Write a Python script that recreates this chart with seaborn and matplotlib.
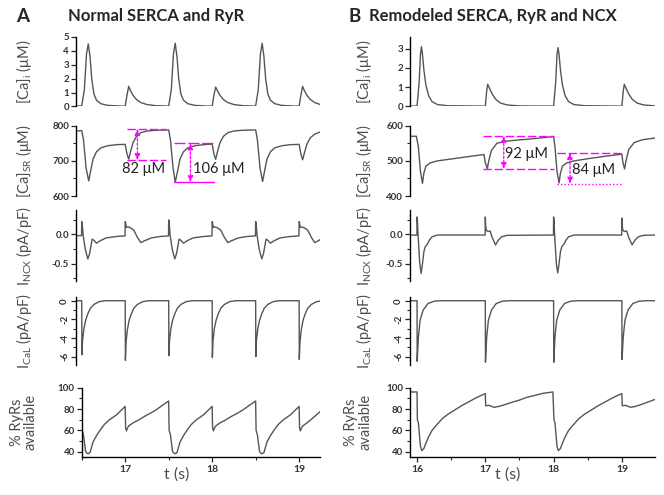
import matplotlib
matplotlib.use("Agg")
import matplotlib.pyplot as plt
import seaborn as sns
from matplotlib.ticker import FixedLocator

sns.set_style("ticks")
plt.rcParams['font.family'] = ['Lato', 'DejaVu Sans']
plt.rcParams['axes.unicode_minus'] = False

# ---------------- data ----------------
# Panel A: Normal SERCA and RyR
a_cai_t = [16.434, 16.50, 16.53, 16.555, 16.575, 16.595, 16.615, 16.64, 16.67, 16.72, 16.80, 16.95,
           17.00, 17.02, 17.04, 17.06, 17.09, 17.13, 17.18, 17.25, 17.35, 17.49,
           17.50, 17.53, 17.555, 17.575, 17.595, 17.615, 17.64, 17.67, 17.72, 17.80, 17.95,
           18.00, 18.02, 18.04, 18.06, 18.09, 18.13, 18.18, 18.25, 18.35, 18.49,
           18.50, 18.53, 18.555, 18.575, 18.595, 18.615, 18.64, 18.67, 18.72, 18.80, 18.95,
           19.00, 19.02, 19.04, 19.06, 19.09, 19.13, 19.18, 19.24]
a_cai = [0.03, 0.05, 1.2, 3.8, 4.5, 3.6, 2.0, 0.9, 0.45, 0.2, 0.08, 0.03,
         0.03, 0.8, 1.45, 1.15, 0.8, 0.5, 0.28, 0.14, 0.06, 0.03,
         0.05, 1.2, 3.8, 4.55, 3.6, 2.0, 0.9, 0.45, 0.2, 0.08, 0.03,
         0.03, 0.8, 1.4, 1.15, 0.8, 0.5, 0.28, 0.14, 0.06, 0.03,
         0.05, 1.2, 3.8, 4.55, 3.6, 2.0, 0.9, 0.45, 0.2, 0.08, 0.03,
         0.03, 0.8, 1.45, 1.15, 0.8, 0.5, 0.28, 0.15]

a_sr_t = [16.434, 16.50, 16.52, 16.55, 16.58, 16.60, 16.63, 16.67, 16.72, 16.80, 16.90, 17.00,
          17.02, 17.04, 17.06, 17.09, 17.13, 17.18, 17.25, 17.35, 17.50,
          17.52, 17.55, 17.575, 17.60, 17.63, 17.67, 17.72, 17.80, 17.90, 18.00,
          18.02, 18.04, 18.06, 18.09, 18.13, 18.18, 18.25, 18.35, 18.50,
          18.52, 18.55, 18.58, 18.60, 18.63, 18.67, 18.72, 18.80, 18.90, 19.00,
          19.02, 19.04, 19.06, 19.09, 19.13, 19.18, 19.24]
a_sr = [785, 786, 760, 680, 643, 668, 705, 726, 737, 743, 746, 747,
        720, 705, 725, 752, 770, 780, 785, 787, 788,
        760, 680, 640, 668, 705, 726, 737, 743, 746, 748,
        720, 704, 725, 752, 770, 780, 785, 787, 788,
        760, 680, 641, 668, 705, 726, 737, 743, 746, 747,
        720, 703, 722, 748, 766, 776, 782]

a_ncx_t = [16.434, 16.498, 16.50, 16.505, 16.515, 16.54, 16.57, 16.59, 16.62, 16.64, 16.67, 16.71, 16.78, 16.90,
           16.998, 17.00, 17.005, 17.012, 17.03, 17.065, 17.10, 17.14, 17.18, 17.22, 17.30, 17.40,
           17.498, 17.50, 17.505, 17.515, 17.54, 17.57, 17.59, 17.62, 17.64, 17.67, 17.71, 17.78, 17.90,
           17.998, 18.00, 18.005, 18.012, 18.03, 18.065, 18.10, 18.14, 18.18, 18.22, 18.30, 18.40,
           18.498, 18.50, 18.505, 18.515, 18.54, 18.57, 18.59, 18.62, 18.64, 18.67, 18.71, 18.78, 18.90,
           18.998, 19.00, 19.005, 19.012, 19.03, 19.065, 19.10, 19.14, 19.18, 19.22, 19.24]
a_ncx = [-0.02, -0.02, 0.22, 0.20, 0.0, -0.25, -0.42, -0.33, -0.08, -0.10, -0.15, -0.11, -0.06, -0.035,
         -0.025, 0.22, 0.20, 0.12, 0.13, 0.11, 0.07, -0.05, -0.14, -0.11, -0.06, -0.035,
         -0.025, 0.25, 0.22, 0.0, -0.25, -0.42, -0.33, -0.08, -0.10, -0.15, -0.11, -0.06, -0.035,
         -0.025, 0.22, 0.20, 0.12, 0.13, 0.11, 0.07, -0.05, -0.14, -0.11, -0.06, -0.035,
         -0.025, 0.22, 0.20, 0.0, -0.25, -0.42, -0.33, -0.08, -0.10, -0.15, -0.11, -0.06, -0.035,
         -0.025, 0.22, 0.20, 0.12, 0.13, 0.11, 0.07, -0.05, -0.14, -0.11, -0.09]

a_cal_t = [16.434, 16.50, 16.502, 16.51, 16.525, 16.545, 16.57, 16.60, 16.64, 16.70, 16.77,
           17.00, 17.002, 17.01, 17.025, 17.045, 17.07, 17.10, 17.14, 17.20, 17.27,
           17.50, 17.502, 17.51, 17.525, 17.545, 17.57, 17.60, 17.64, 17.70, 17.77,
           18.00, 18.002, 18.01, 18.025, 18.045, 18.07, 18.10, 18.14, 18.20, 18.27,
           18.50, 18.502, 18.51, 18.525, 18.545, 18.57, 18.60, 18.64, 18.70, 18.77,
           19.00, 19.002, 19.01, 19.025, 19.045, 19.07, 19.10, 19.14, 19.20, 19.24]
a_cal = [0, 0, -5.8, -4.2, -3.0, -2.1, -1.4, -0.8, -0.4, -0.1, 0,
         0, -6.4, -4.4, -3.1, -2.1, -1.4, -0.8, -0.4, -0.1, 0,
         0, -5.9, -4.2, -3.0, -2.1, -1.4, -0.8, -0.4, -0.1, 0,
         0, -6.1, -4.3, -3.0, -2.1, -1.4, -0.8, -0.4, -0.1, 0,
         0, -6.0, -4.2, -3.0, -2.1, -1.4, -0.8, -0.4, -0.1, 0,
         0, -6.3, -4.4, -3.1, -2.1, -1.4, -0.8, -0.4, -0.1, -0.05]

a_ryr_t = [16.43, 16.49, 16.50, 16.505, 16.52, 16.545, 16.57, 16.595, 16.63, 16.67, 16.71, 16.76, 16.82,
           16.90, 16.95, 17.00,
           17.005, 17.015, 17.025, 17.04, 17.09, 17.15, 17.22, 17.30, 17.36, 17.42, 17.50,
           17.505, 17.52, 17.545, 17.57, 17.595, 17.63, 17.67, 17.71, 17.76, 17.82,
           17.90, 17.95, 18.00,
           18.005, 18.015, 18.025, 18.04, 18.09, 18.15, 18.22, 18.30, 18.36, 18.42, 18.50,
           18.505, 18.52, 18.545, 18.57, 18.595, 18.63, 18.67, 18.71, 18.76, 18.82,
           18.90, 18.95, 19.00,
           19.005, 19.015, 19.025, 19.04, 19.09, 19.15, 19.24]
a_ryr = [86, 88, 88, 60, 56, 40, 38, 39, 49, 55, 60, 65.5, 70,
         74.5, 78.5, 82.5,
         62, 59.5, 62, 64, 67, 69.5, 73, 76.5, 79.5, 83, 87.5,
         60, 56, 40, 38, 39, 49, 55, 60, 65.5, 70,
         74.5, 78.5, 82.5,
         62, 59.5, 62, 64, 67, 69.5, 73, 76.5, 79.5, 83, 87.5,
         60, 56, 40, 38, 39, 49, 55, 60, 65.5, 70,
         74.5, 78.5, 82.5,
         62, 59.5, 62, 64, 67, 71, 77.5]

# Panel B: Remodeled SERCA, RyR and NCX
b_cai_t = [15.897, 16.00, 16.03, 16.05, 16.065, 16.08, 16.10, 16.13, 16.17, 16.22, 16.30, 16.45,
           17.00, 17.02, 17.035, 17.06, 17.10, 17.15, 17.22, 17.32, 17.50,
           18.00, 18.03, 18.05, 18.065, 18.08, 18.10, 18.13, 18.17, 18.22, 18.30, 18.45,
           19.00, 19.02, 19.035, 19.06, 19.10, 19.15, 19.22, 19.32, 19.485]
b_cai = [0.02, 0.03, 1.2, 2.7, 3.1, 2.7, 1.9, 1.1, 0.55, 0.25, 0.1, 0.04,
         0.02, 0.8, 1.15, 0.95, 0.65, 0.38, 0.18, 0.08, 0.03,
         0.02, 1.2, 2.7, 3.05, 2.7, 1.9, 1.1, 0.55, 0.25, 0.1, 0.04,
         0.02, 0.8, 1.15, 0.95, 0.65, 0.38, 0.18, 0.08, 0.03]

b_sr_t = [15.897, 15.99, 16.02, 16.05, 16.08, 16.10, 16.13, 16.19, 16.30, 16.49, 16.75, 16.98,
          17.00, 17.03, 17.05, 17.09, 17.17, 17.30, 17.47, 17.75, 18.00,
          18.02, 18.05, 18.08, 18.10, 18.13, 18.19, 18.30, 18.50, 18.75, 19.00,
          19.015, 19.04, 19.06, 19.10, 19.18, 19.30, 19.485]
b_sr = [570, 570, 540, 470, 436, 465, 485, 494, 500, 505, 512, 518,
        495, 478, 500, 530, 550, 556, 559, 564, 569,
        540, 470, 437, 465, 485, 494, 500, 506, 513, 519,
        495, 477, 500, 532, 552, 560, 565]

b_ncx_t = [15.897, 15.998, 16.00, 16.005, 16.015, 16.04, 16.06, 16.08, 16.10, 16.12, 16.15, 16.18, 16.22, 16.30,
           16.998, 17.00, 17.005, 17.015, 17.04, 17.07, 17.10, 17.15, 17.19, 17.24, 17.32,
           17.998, 18.00, 18.005, 18.015, 18.04, 18.06, 18.08, 18.10, 18.12, 18.15, 18.18, 18.22, 18.30,
           18.998, 19.00, 19.005, 19.015, 19.04, 19.07, 19.10, 19.15, 19.19, 19.24, 19.32, 19.485]
b_ncx = [-0.01, -0.01, 0.30, 0.25, 0.0, -0.50, -0.67, -0.50, -0.30, -0.21, -0.17, -0.10, -0.04, -0.01,
         -0.01, 0.30, 0.15, 0.07, 0.05, 0.06, -0.05, -0.18, -0.10, -0.04, -0.015,
         -0.01, 0.30, 0.25, 0.0, -0.50, -0.66, -0.50, -0.30, -0.21, -0.17, -0.10, -0.04, -0.01,
         -0.01, 0.28, 0.15, 0.07, 0.05, 0.06, -0.05, -0.18, -0.10, -0.04, -0.015, -0.01]

b_cal_t = [15.897, 16.00, 16.002, 16.02, 16.045, 16.09, 16.16, 16.25, 16.35,
           17.00, 17.002, 17.02, 17.045, 17.09, 17.16, 17.25, 17.35,
           18.00, 18.002, 18.02, 18.045, 18.09, 18.16, 18.25, 18.35,
           19.00, 19.002, 19.02, 19.045, 19.09, 19.16, 19.25, 19.35, 19.485]
b_cal = [0, 0, -6.5, -3.9, -2.1, -1.0, -0.3, -0.05, 0,
         0, -6.6, -3.9, -2.1, -1.0, -0.3, -0.05, 0,
         0, -6.6, -3.9, -2.1, -1.0, -0.3, -0.05, 0,
         0, -6.3, -3.9, -2.1, -1.0, -0.3, -0.05, 0, 0]

b_ryr_t = [15.897, 16.00, 16.005, 16.02, 16.05, 16.07, 16.10, 16.13, 16.17, 16.22, 16.30, 16.37, 16.45,
           16.55, 16.65, 16.75, 16.85, 16.93, 17.00,
           17.005, 17.05, 17.13, 17.20, 17.30, 17.40, 17.50, 17.60, 17.74, 17.85, 17.99,
           18.005, 18.02, 18.05, 18.07, 18.10, 18.13, 18.17, 18.22, 18.30, 18.37, 18.45,
           18.55, 18.65, 18.75, 18.85, 18.93, 19.00,
           19.005, 19.05, 19.13, 19.20, 19.30, 19.40, 19.485]
b_ryr = [96, 96, 70, 67, 45, 41, 43, 48, 54, 60, 66, 71, 75,
         79, 83, 86.5, 90, 92.5, 94.5,
         83, 83.5, 81.6, 82.5, 84.4, 86.5, 88.4, 90.8, 93, 94.8, 96,
         70, 67, 45, 41, 43, 48, 54, 60, 66, 71, 75,
         79, 83, 86.5, 90, 92.5, 94.5,
         83, 83.5, 81.6, 82.5, 84.6, 87, 89]

# magenta [Ca]SR difference markers
a_mark_lo = [702, 639]
a_mark_hi = [791, 750]
a_mark_x0 = [17.017, 17.564]
a_mark_x1 = [17.47, 18.02]
a_mark_arrow_t = [17.14, 17.75]
a_mark_text = ['82 μM', '106 μM']
a_mark_text_t = [16.96, 17.78]
a_mark_text_y = [677, 677]

b_mark_lo = [477, 435]
b_mark_hi = [571, 523]
b_mark_x0 = [16.97, 18.05]
b_mark_x1 = [18.01, 19.01]
b_mark_arrow_t = [17.27, 18.24]
b_mark_text = ['92 μM', '84 μM']
b_mark_text_t = [17.29, 18.27]
b_mark_text_y = [519, 473]

# ---------------- layout ----------------
W, H = 664, 495
fig = plt.figure(figsize=(W / 100, H / 100), dpi=100)


def place(l, t, r, b):
    return [l / W, 1 - b / H, (r - l) / W, (b - t) / H]


rows = [(37, 106.5), (125.7, 196), (210, 281), (297, 365), (387.7, 457)]
trace_col = '#555555'
tick_col = '#333333'
lab_col = '#4d4d4d'
mag = '#ff00ff'

col_a = [a_cai, a_sr, a_ncx, a_cal, a_ryr]
col_a_t = [a_cai_t, a_sr_t, a_ncx_t, a_cal_t, a_ryr_t]
col_b = [b_cai, b_sr, b_ncx, b_cal, b_ryr]
col_b_t = [b_cai_t, b_sr_t, b_ncx_t, b_cal_t, b_ryr_t]

ylabels = ['[Ca]$_\\mathregular{i}$ (μM)', '[Ca]$_\\mathregular{SR}$ (μM)',
           'I$_\\mathregular{NCX}$ (pA/pF)', 'I$_\\mathregular{CaL}$ (pA/pF)', '% RyRs\navailable']
ylims_a = [(0, 5), (600, 800), (-0.8, 0.42), (-6.9, 0.4), (35, 100)]
ylims_b = [(0, 3.6), (400, 600), (-0.8, 0.42), (-6.9, 0.4), (35, 100)]
major_a = [[0, 1, 2, 3, 4, 5], [600, 700, 800], [-0.5, 0.0], [-6, -4, -2, 0], [40, 60, 80, 100]]
major_b = [[0, 1, 2, 3], [400, 500, 600], [-0.5, 0.0], [-6, -4, -2, 0], [40, 60, 80, 100]]
minor_a = [[], [650, 750], [-0.75, -0.25, 0.25], [-5, -3, -1], [50, 70, 90]]
minor_b = [[], [450, 550], [-0.75, -0.25, 0.25], [-5, -3, -1], [50, 70, 90]]
fmt = ['{:g}', '{:g}', '{:.1f}', '{:g}', '{:g}']

axes = []
for side in range(2):
    for i in range(5):
        top, bot = rows[i]
        if side == 0:
            left = 81.7 if i == 4 else 76
            ax = fig.add_axes(place(left, top, 320, bot))
            xl = (16.5, 19.24) if i == 4 else (16.434, 19.24)
            tt, yy = col_a_t[i], col_a[i]
            ylim, maj, mnr = ylims_a[i], major_a[i], minor_a[i]
        else:
            left = 410
            ax = fig.add_axes(place(410, top, 655, bot))
            xl = (15.897, 19.485)
            tt, yy = col_b_t[i], col_b[i]
            ylim, maj, mnr = ylims_b[i], major_b[i], minor_b[i]
        sns.lineplot(x=tt, y=yy, ax=ax, color=trace_col, lw=1.0,
                     estimator=None, sort=False)
        ax.set_xlim(*xl)
        ax.set_ylim(*ylim)
        ax.yaxis.set_major_locator(FixedLocator(maj))
        ax.yaxis.set_minor_locator(FixedLocator(mnr))
        ax.set_yticklabels([fmt[i].format(v) for v in maj])
        ax.tick_params(axis='y', which='major', direction='out', length=3.5, width=0.9,
                       labelsize=7, labelcolor=tick_col, pad=1.5)
        ax.tick_params(axis='y', which='minor', direction='out', length=2, width=0.8)
        for lbl in ax.get_yticklabels():
            lbl.set_fontweight('bold')
            if i == 3:
                lbl.set_rotation(90)
                lbl.set_va('center')
        sns.despine(ax=ax, top=True, right=True, bottom=(i != 4))
        ax.spines['left'].set_linewidth(1.0)
        ax.spines['left'].set_color('black')
        if i == 4:
            ax.spines['bottom'].set_linewidth(1.0)
            ax.spines['bottom'].set_color('black')
            if side == 0:
                ax.xaxis.set_major_locator(FixedLocator([17, 18, 19]))
            else:
                ax.xaxis.set_major_locator(FixedLocator([16, 17, 18, 19]))
            ax.xaxis.set_minor_locator(FixedLocator([16.5, 17.5, 18.5]))
            ax.tick_params(axis='x', which='major', direction='out', length=3.5, width=0.9,
                           labelsize=7.5, labelcolor=tick_col, pad=2)
            ax.tick_params(axis='x', which='minor', direction='out', length=2, width=0.8)
            for lbl in ax.get_xticklabels():
                lbl.set_fontweight('bold')
            ax.set_xlabel('t (s)', fontsize=11.5, color=lab_col)
            ax.xaxis.set_label_coords(0.40, -0.15)
        else:
            ax.set_xticks([])
            ax.set_xlabel('')
        ax.set_ylabel(ylabels[i], fontsize=10.5, color=lab_col, linespacing=1.0)
        width_px = 320 - left if side == 0 else 245
        lab_x = (left - 42) if side == 0 else 374
        if i == 4:
            lab_x = 38 if side == 0 else 372
        ax.yaxis.set_label_coords((lab_x - left) / width_px, 0.5)
        axes.append(ax)

# magenta markers on [Ca]SR panels
for ax, lo, hi, x0, x1, at, txt, txt_t, txt_y, styles in [
        (axes[1], a_mark_lo, a_mark_hi, a_mark_x0, a_mark_x1, a_mark_arrow_t,
         a_mark_text, a_mark_text_t, a_mark_text_y, [((0, (6, 2)), (0, (6, 2))), ((0, (8, 2)), '-')]),
        (axes[6], b_mark_lo, b_mark_hi, b_mark_x0, b_mark_x1, b_mark_arrow_t,
         b_mark_text, b_mark_text_t, b_mark_text_y, [((0, (6, 2)), (0, (6, 2))), ((0, (6, 2)), (0, (1, 1.5)))])]:
    for k in range(2):
        ax.plot([x0[k], x1[k]], [hi[k], hi[k]], color=mag, lw=1.0, linestyle=styles[k][0])
        ax.plot([x0[k], x1[k]], [lo[k], lo[k]], color=mag, lw=1.0, linestyle=styles[k][1])
        ax.annotate('', xy=(at[k], hi[k]), xytext=(at[k], lo[k]),
                    arrowprops=dict(arrowstyle='<|-|>,head_length=0.35,head_width=0.15',
                                    color=mag, lw=0.9, linestyle=(0, (2, 1.5)),
                                    shrinkA=0, shrinkB=0))
        ax.text(txt_t[k], txt_y[k], txt[k], fontsize=10.5, color='#222222',
                ha='left', va='center')

# panel headers
fig.text(16 / W, 1 - 16 / H, 'A', fontsize=13.5, fontweight='bold', va='center', ha='left')
fig.text(68 / W, 1 - 16 / H, 'Normal SERCA and RyR', fontsize=12, fontweight='bold',
         va='center', ha='left')
fig.text(348 / W, 1 - 16 / H, 'B', fontsize=13.5, fontweight='bold', va='center', ha='left')
fig.text(369 / W, 1 - 16 / H, 'Remodeled SERCA, RyR and NCX', fontsize=12, fontweight='bold',
         va='center', ha='left')

fig.savefig('out.png', dpi=100)
